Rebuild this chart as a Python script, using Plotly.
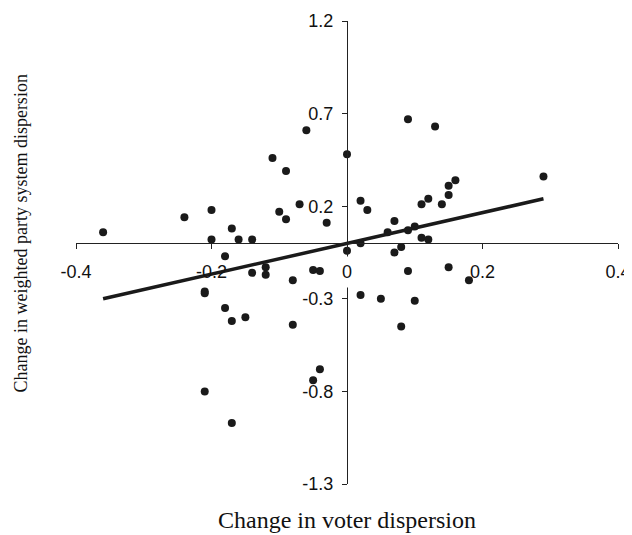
import plotly.graph_objects as go

# Data
voter_change = [-0.36, -0.24, -0.20, -0.20, -0.17, -0.16, -0.14, -0.18, -0.12, -0.12,
                -0.14, -0.21, -0.21, -0.18, -0.17, -0.15, -0.21, -0.17, -0.11, -0.09,
                -0.06, -0.10, -0.09, -0.07, -0.03, -0.08, -0.08, -0.05, -0.04, -0.05,
                -0.04, 0.00, 0.00, 0.02, 0.03, 0.02, 0.02, 0.05, 0.06, 0.07,
                0.07, 0.08, 0.09, 0.10, 0.09, 0.13, 0.11, 0.12, 0.14, 0.15,
                0.15, 0.16, 0.11, 0.12, 0.09, 0.10, 0.08, 0.15, 0.18, 0.29]
party_change = [0.06, 0.14, 0.18, 0.02, 0.08, 0.02, 0.02, -0.07, -0.13, -0.17,
                -0.16, -0.26, -0.27, -0.35, -0.42, -0.40, -0.80, -0.97, 0.46, 0.39,
                0.61, 0.17, 0.13, 0.21, 0.11, -0.20, -0.44, -0.145, -0.15, -0.74,
                -0.68, 0.48, -0.04, 0.23, 0.18, 0.00, -0.28, -0.30, 0.06, 0.12,
                -0.05, -0.02, 0.07, 0.09, 0.67, 0.63, 0.21, 0.24, 0.21, 0.26,
                0.31, 0.34, 0.03, 0.02, -0.15, -0.31, -0.45, -0.13, -0.20, 0.36]

trend_x = [-0.36, 0.29]
trend_y = [-0.30, 0.24]

x_tickvals = [-0.4, -0.2, 0.0, 0.2, 0.4]
x_ticktext = ["-0.4", "-0.2", "", "0.2", "0.4"]
y_tickvals = [-1.3, -0.8, -0.3, 0.2, 0.7, 1.2]
y_ticktext = ["-1.3", "-0.8", "-0.3", "0.2", "0.7", "1.2"]

x_title = "Change in voter dispersion"
y_title = "Change in weighted party system dispersion"

fig = go.Figure()
fig.add_trace(go.Scatter(
    x=voter_change, y=party_change, mode="markers",
    marker=dict(size=8, color="#1a1a1a", line=dict(width=0)),
    showlegend=False, hoverinfo="skip"))
fig.add_trace(go.Scatter(
    x=trend_x, y=trend_y, mode="lines",
    line=dict(color="#1a1a1a", width=3.5),
    showlegend=False, hoverinfo="skip"))

tick_font = dict(family="Liberation Sans, Arial, sans-serif", size=18, color="#111")

# page body has an 8px margin; figure placed accordingly
fig.update_layout(
    width=624, height=527,
    margin=dict(l=68, r=13.5, t=13, b=50.7, autoexpand=False),
    paper_bgcolor="white", plot_bgcolor="white",
    xaxis=dict(range=[-0.4, 0.4], anchor="free", position=1.3 / 2.5,
               showgrid=False, zeroline=False, showline=True,
               linecolor="#222", linewidth=1,
               ticks="outside", ticklen=5, tickwidth=1, tickcolor="#222",
               tickvals=x_tickvals, ticktext=x_ticktext,
               tickfont=tick_font, ticklabelstandoff=7, automargin=False),
    yaxis=dict(range=[-1.3, 1.2], anchor="free", position=0.5,
               showgrid=False, zeroline=False, showline=True,
               linecolor="#222", linewidth=1,
               ticks="outside", ticklen=5, tickwidth=1, tickcolor="#222",
               tickvals=y_tickvals, ticktext=y_ticktext,
               tickfont=tick_font, ticklabelstandoff=5, automargin=False),
    annotations=[
        dict(x=0, y=0, xref="x", yref="y", text="0", showarrow=False,
             xanchor="center", yanchor="top", yshift=-12.5, height=28,
             bgcolor="white", font=tick_font),
        dict(x=0.5, y=-0.077, xref="paper", yref="paper", text=x_title,
             showarrow=False, xanchor="center", yanchor="middle",
             font=dict(family="Liberation Serif, Times New Roman, serif", size=24, color="#111")),
        dict(x=(12 - 68) / 542.5, y=0.541, xref="paper", yref="paper", text=y_title,
             showarrow=False, textangle=-90, xanchor="center", yanchor="middle",
             font=dict(family="Liberation Serif, Times New Roman, serif", size=18, color="#111")),
    ],
)

fig.write_html("out.html")
